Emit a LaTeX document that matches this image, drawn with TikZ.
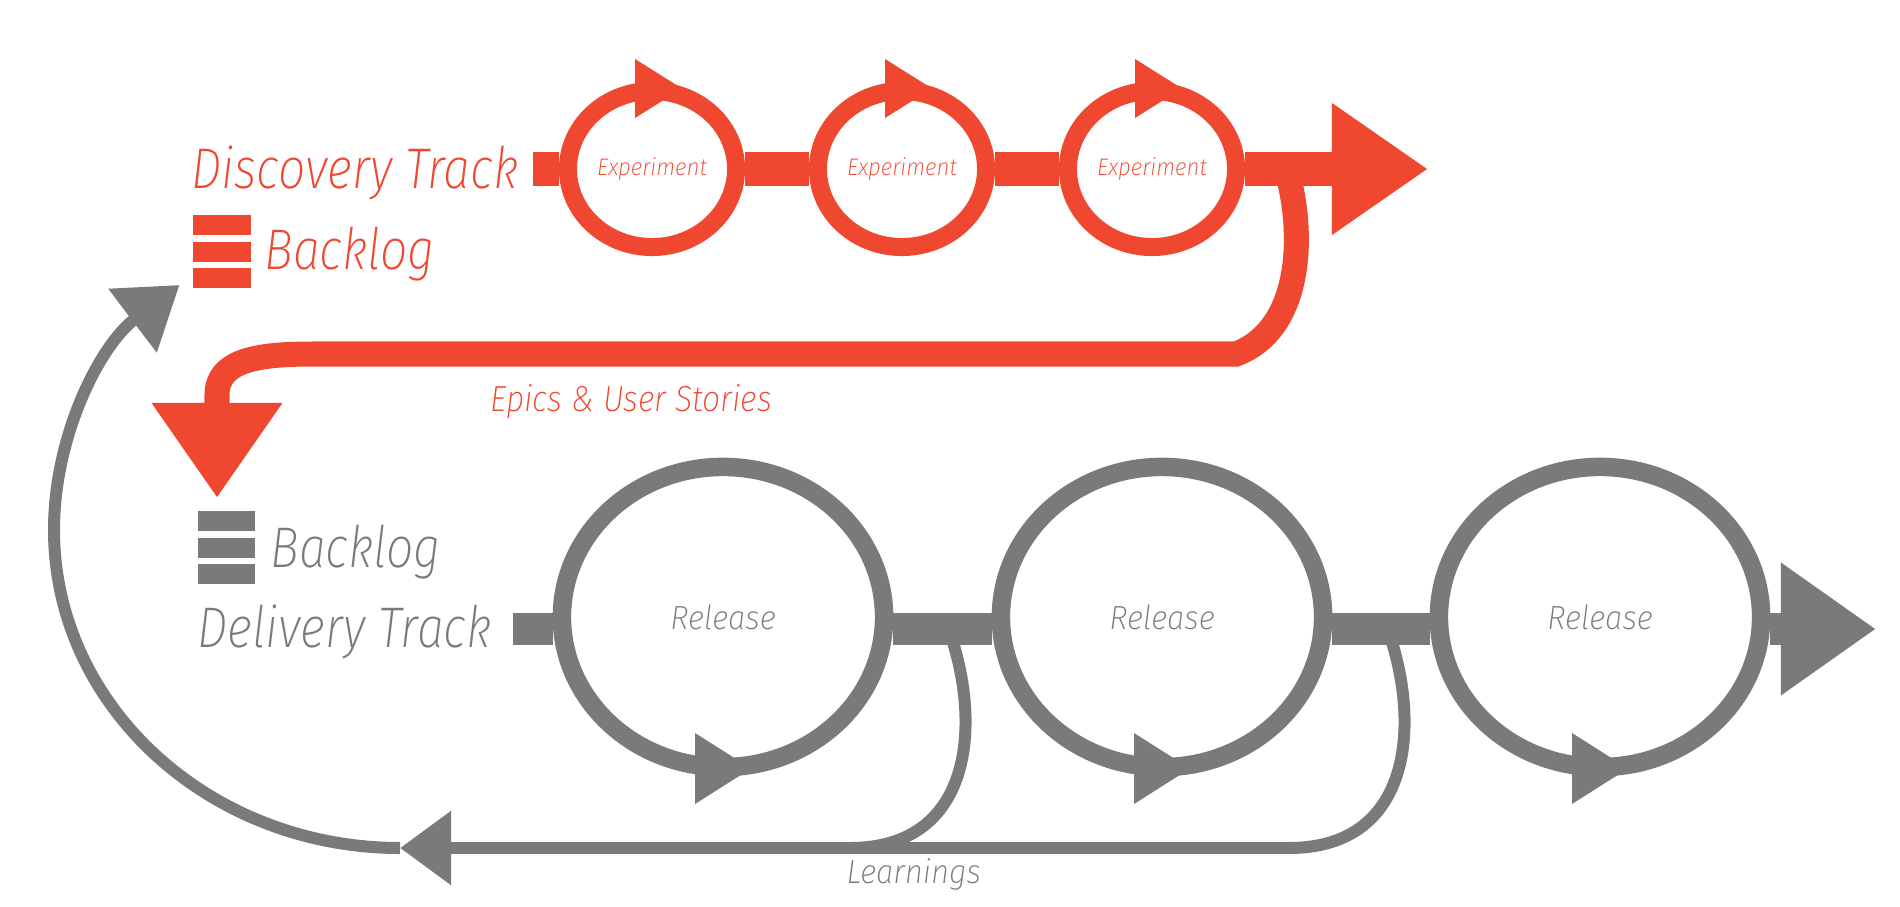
\documentclass[tikz,border=0pt]{standalone}
\usepackage{fontspec}
\newfontfamily\labbig{Fira Sans ExtraLight Italic}[FakeStretch=0.84]
\newfontfamily\labsmall{Fira Sans ExtraLight Italic}[FakeStretch=0.93]
\newfontfamily\labmid{Fira Sans ExtraLight Italic}[FakeStretch=0.88]
\usetikzlibrary{arrows.meta,shapes.geometric}
\definecolor{dred}{HTML}{EF4730}
\definecolor{dgray}{HTML}{7A7A7A}
\begin{document}
\begin{tikzpicture}[x=0.01cm,y=-0.01cm,
  bigred/.style={text=dred, font=\labbig\fontsize{16.3}{18}\selectfont, anchor=base west, inner sep=0},
  biggray/.style={text=dgray, font=\labbig\fontsize{16.3}{18}\selectfont, anchor=base west, inner sep=0},
  expnode/.style={ellipse, draw=dred, line width=0.18cm, minimum width=1.68cm, minimum height=1.56cm, inner sep=0, text=dred, font=\labsmall\fontsize{6.8}{8}\selectfont},
  relnode/.style={ellipse, draw=dgray, line width=0.185cm, minimum width=3.22cm, minimum height=3.0cm, inner sep=0, text=dgray, font=\labsmall\fontsize{9.5}{11}\selectfont},
  redline/.style={draw=dred, line width=0.33cm},
  redcurve/.style={draw=dred, line width=0.25cm},
  grayline/.style={draw=dgray, line width=0.32cm},
  graythin/.style={draw=dgray, line width=0.12cm},
  bigtip/.style={-{Triangle[length=0.96cm,width=1.25cm]}},
]
\useasboundingbox (0,0) rectangle (1900,906);

% ---------- Discovery track ----------
\node[bigred] (dtrack) at (191,188) {Discovery Track};
\node[bigred] (rback) at (264,269) {Backlog};
\foreach \yy in {215,241.5,268} \fill[dred] (193,\yy) rectangle (251,\yy+20);

\coordinate (dstart) at (533,169);
\coordinate (dend) at (1428,169);
\node[expnode] (e1) at (652,169) {Experiment};
\node[expnode] (e2) at (902,169) {Experiment};
\node[expnode] (e3) at (1152,169) {Experiment};
\draw[redline] (dstart) -- (e1) (e1) -- (e2) (e2) -- (e3);
\draw[redline,bigtip] (e3) -- (dend);
\foreach \n in {e1,e2,e3}
  \fill[dred] ([shift={(-17,-110)}]\n.center) -- ([shift={(-17,-51)}]\n.center) -- ([shift={(30,-80.5)}]\n.center) -- cycle;

% ---------- Epics & User Stories ----------
\coordinate (rc0) at (1288,175);
\coordinate (rc1) at (1236,354);
\coordinate (rc2) at (313,354);
\coordinate (rc3) at (217,395);
\coordinate (rtip) at (217,498);
\draw[redcurve,-{Triangle[length=0.95cm,width=1.24cm]}] (rc0) .. controls (1305,240) and (1300,330) .. (rc1) -- (rc2) .. controls (258,354) and (217,360) .. (rc3) -- (rtip);
\node[text=dred, font=\labmid\fontsize{10.3}{12}\selectfont, anchor=base west, inner sep=0] (epics) at (490,411) {Epics \& User Stories};

% ---------- Delivery track ----------
\foreach \yy in {511,537.5,564} \fill[dgray] (198,\yy) rectangle (255,\yy+20);
\node[biggray] (gback) at (270,567) {Backlog};
\node[biggray] (dltrack) at (197,647) {Delivery Track};

\coordinate (gstart) at (513,629);
\coordinate (gend) at (1876,629);
\node[relnode] (r1) at (723,617) {Release};
\node[relnode] (r2) at (1162,617) {Release};
\node[relnode] (r3) at (1600,617) {Release};
\draw[grayline] (gstart) -- (r1.west |- gstart) (r1.east |- gstart) -- (r2.west |- gstart) (r2.east |- gstart) -- (r3.west |- gstart);
\draw[grayline,-{Triangle[length=0.95cm,width=1.26cm]}] (r3.east |- gstart) -- (gend);
\foreach \n in {r1,r2,r3}
  \fill[dgray] ([shift={(-28,116)}]\n.center) -- ([shift={(-28,187)}]\n.center) -- ([shift={(28,151.5)}]\n.center) -- cycle;

% ---------- Learnings ----------
\coordinate (l1s) at (951,636);
\coordinate (l1e) at (850,848);
\coordinate (l2s) at (1390,636);
\coordinate (l2e) at (1289,848);
\coordinate (ltip) at (400,848);
\coordinate (lleft) at (54,530);
\coordinate (atip) at (179.5,285);
\draw[graythin] (l1s) .. controls (982,730) and (970,848) .. (l1e);
\draw[graythin] (l2s) .. controls (1421,730) and (1409,848) .. (l2e);
\draw[graythin,-{Triangle[length=0.51cm,width=0.71cm]}] (l2e) -- (ltip);
\draw[graythin,-{Triangle[length=0.59cm,width=0.77cm]}] (ltip) .. controls (209,848) and (54,705.6) .. (lleft) .. controls (54,435.2) and (100,345.4) .. (atip);
\node[text=dgray, font=\labsmall\fontsize{9.5}{11}\selectfont, anchor=base west, inner sep=0] (learn) at (846,883) {Learnings};
\end{tikzpicture}
\end{document}
